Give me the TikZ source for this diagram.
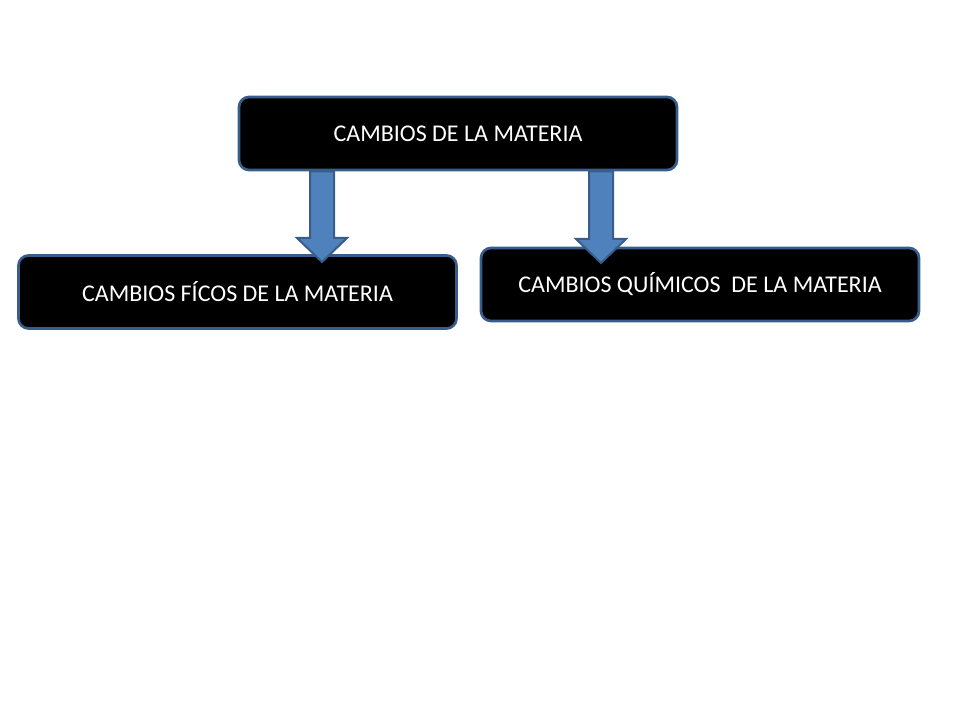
\documentclass[tikz,border=0pt]{standalone}
\usepackage{fontspec}
\setmainfont{Carlito}
\usepackage{tikz}
\usetikzlibrary{positioning,calc}

\definecolor{boxline}{RGB}{56,93,138}
\definecolor{arrowfill}{RGB}{79,129,189}

\begin{document}
\begin{tikzpicture}[x=0.75pt,y=-0.75pt]
\tikzstyle{changebox}=[draw=boxline,line width=2pt,fill=black,rounded corners=7.5pt,
  minimum width=328.5pt,minimum height=54.75pt,text=white,font=\fontsize{18}{21}\selectfont]
\tikzstyle{blockarrow}=[draw=boxline,line width=1.5pt,fill=arrowfill,line join=miter]
\useasboundingbox (0,0) rectangle (960,720);
\node [changebox] (materia) at (458,133.5) {CAMBIOS DE LA MATERIA};
\node [changebox] (fisicos) at (237.5,292) {CAMBIOS FÍCOS DE LA MATERIA};
\node [changebox] (quimicos) at (700,284.5) {CAMBIOS QUÍMICOS~~DE LA MATERIA};
\coordinate (tipF) at (322,262);
\coordinate (tipQ) at (601,263);
% block arrows
\draw [blockarrow] ($(materia.south -| tipF)+(-12,0)$) -- ($(tipF)+(-12,-24)$) -- ($(tipF)+(-25,-24)$)
  -- (tipF) -- ($(tipF)+(25,-24)$) -- ($(tipF)+(12,-24)$) -- ($(materia.south -| tipF)+(12,0)$) -- cycle;
\draw [blockarrow] ($(materia.south -| tipQ)+(-12,0)$) -- ($(tipQ)+(-12,-24)$) -- ($(tipQ)+(-25,-24)$)
  -- (tipQ) -- ($(tipQ)+(25,-24)$) -- ($(tipQ)+(12,-24)$) -- ($(materia.south -| tipQ)+(12,0)$) -- cycle;
\end{tikzpicture}
\end{document}
